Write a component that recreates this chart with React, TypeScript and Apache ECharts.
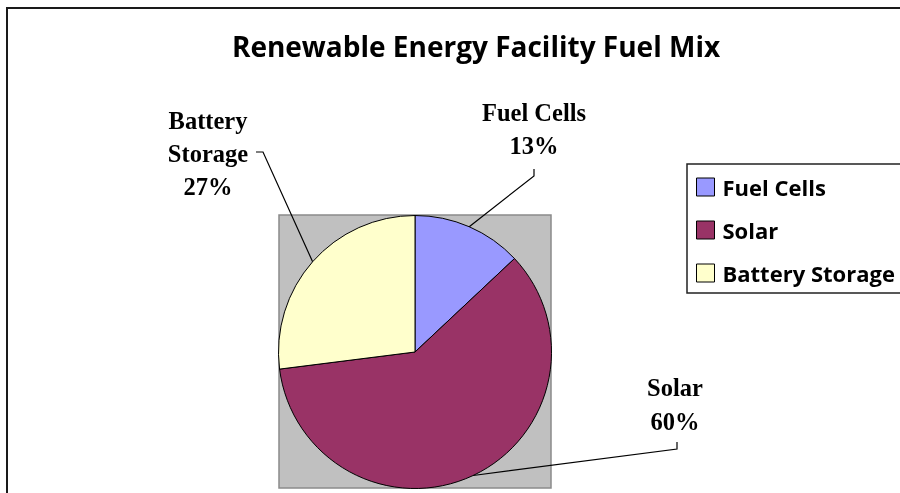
import React, { useEffect, useRef } from "react";
import * as echarts from "echarts";

const titleText = "Renewable Energy Facility Fuel Mix";
const categories = ["Fuel Cells", "Solar", "Battery Storage"];
const values = [13, 60, 27];
const colors = ["#9999FF", "#993366", "#FFFFCC"];
const labelLines = ["Fuel Cells", "Solar", "Battery\nStorage"];

export default function App() {
  const ref = useRef<HTMLDivElement>(null);
  useEffect(() => {
    if (!ref.current) return;
    const chart = echarts.init(ref.current, null, { renderer: "svg" });
    const cx = 415;
    const cy = 352;
    const r = 136.5;
    const total = values.reduce((a, b) => a + b, 0);
    let acc = 0;
    const anchors = values.map((v) => {
      const mid = ((acc + v / 2) / total) * Math.PI * 2;
      acc += v;
      return [cx + r * Math.sin(mid), cy - r * Math.cos(mid)];
    });
    const labelPos = [
      { x: 534, y: 96, lh: 33, bend: [[534, 176], [534, 169]] },
      { x: 675, y: 370, lh: 34, bend: [[677, 449], [677, 442]] },
      { x: 208, y: 104, lh: 33, bend: [[263, 152], [256, 152]] },
    ];
    const labelFont = '"Liberation Serif", "Times New Roman", serif';
    const graphics: any[] = [
      {
        type: "rect",
        z: -10,
        shape: { x: 7, y: 8, width: 1000, height: 1000 },
        style: { fill: "#fff", stroke: "#1a1a1a", lineWidth: 2 },
      },
      {
        type: "rect",
        z: 0,
        shape: { x: 279, y: 215, width: 272, height: 273 },
        style: { fill: "#C0C0C0", stroke: "#8a8a8a", lineWidth: 1.5 },
      },
    ];
    categories.forEach((c, i) => {
      const p = labelPos[i];
      const pct = Math.round((values[i] / total) * 100);
      graphics.push({
        type: "polyline",
        z: 10,
        shape: { points: [anchors[i], ...p.bend] },
        style: { stroke: "#000", lineWidth: 1.2, fill: null },
      });
      graphics.push({
        type: "text",
        z: 10,
        x: p.x,
        y: p.y,
        style: {
          text: labelLines[i] + "\n" + pct + "%",
          font: `bold 24.5px ${labelFont}`,
          fill: "#000",
          align: "center",
          verticalAlign: "top",
          lineHeight: p.lh,
        },
      });
    });
    chart.setOption({
      animation: false,
      title: {
        text: titleText,
        left: 471,
        top: 27,
        textAlign: "center",
        textStyle: {
          fontFamily: "Open Sans",
          fontWeight: "bold",
          fontSize: 28,
          color: "#000",
        },
      },
      legend: {
        orient: "vertical",
        left: 687,
        top: 164,
        padding: [12, 20, 9, 9],
        itemGap: 21,
        itemWidth: 18,
        itemHeight: 18,
        icon: "rect",
        borderColor: "#222",
        borderWidth: 1.5,
        backgroundColor: "#fff",
        data: categories,
        itemStyle: { borderColor: "#000", borderWidth: 1 },
        textStyle: {
          fontFamily: "Open Sans",
          fontWeight: "bold",
          fontSize: 22,
          lineHeight: 18,
          color: "#000",
          padding: [0, 0, 0, 3],
        },
      },
      graphic: graphics,
      series: [
        {
          type: "pie",
          center: [cx, cy],
          radius: r,
          startAngle: 90,
          clockwise: true,
          label: { show: false },
          labelLine: { show: false },
          emphasis: { disabled: true },
          itemStyle: { borderColor: "#000", borderWidth: 1 },
          data: categories.map((c, i) => ({
            name: c,
            value: values[i],
            itemStyle: { color: colors[i] },
          })),
        },
      ],
    });
    return () => chart.dispose();
  }, []);
  return (
    <div
      ref={ref}
      style={{ position: "fixed", left: 0, top: 0, width: 900, height: 493 }}
    />
  );
}
